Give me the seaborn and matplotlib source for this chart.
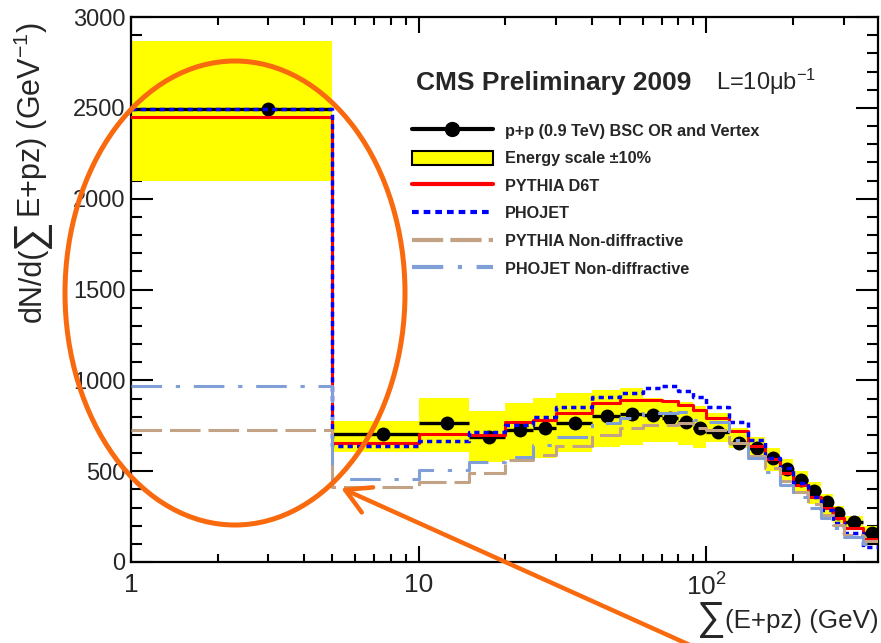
import numpy as np
import pandas as pd
import matplotlib
matplotlib.use("Agg")
import matplotlib.pyplot as plt
import seaborn as sns
from matplotlib import font_manager
from matplotlib.lines import Line2D
from matplotlib.patches import Patch, Ellipse

# ---- histogram contents -------------------------------------------------
# bin edges of sum(E+pz) in GeV
bin_edges = [1, 5, 10, 15, 20, 25, 30, 40, 50, 60, 70, 80, 90, 100,
             120, 140, 160, 180, 200, 225, 250, 275, 300, 350, 400]
# measured dN/d(sum E+pz), p+p 0.9 TeV, BSC OR and vertex
data_vals = [2495, 705, 765, 690, 727, 736, 763, 805, 815, 808, 790, 770,
             735, 717, 653, 626, 571, 511, 451, 392, 332, 272, 222, 162]
# energy scale +-10% systematic band
escale_low = [2100, 607, 603, 548, 561, 571, 607, 635, 644, 662, 662, 644,
              626, 662, 626, 560, 500, 440, 380, 320, 265, 215, 175, 125]
escale_high = [2870, 778, 901, 832, 873, 901, 928, 947, 956, 905, 890, 880,
               860, 818, 740, 690, 630, 565, 500, 440, 375, 310, 255, 200]
# generator predictions
pythia_d6t = [2450, 657, 705, 700, 772, 782, 822, 873, 892, 892, 885, 865,
              835, 795, 720, 640, 565, 490, 425, 360, 300, 240, 185, 125]
phojet = [2495, 638, 666, 717, 754, 796, 851, 910, 932, 958, 969, 943,
          910, 855, 772, 672, 571, 516, 433, 360, 286, 213, 158, 84]
pythia_nd = [727, 415, 442, 488, 561, 589, 638, 699, 736, 754, 754, 763,
             736, 727, 653, 585, 515, 445, 385, 320, 260, 205, 150, 115]
phojet_nd = [970, 457, 506, 552, 576, 644, 690, 763, 791, 818, 818, 827,
             782, 772, 672, 570, 495, 425, 360, 300, 240, 185, 140, 100]

x_tick_vals = [1, 10, 100]
x_tick_text = ["1", "10", "10$^{2}$"]

# ---- style ---------------------------------------------------------------
sns.set_theme(style="ticks")
names = {f.name for f in font_manager.fontManager.ttflist}
NARROW = "Liberation Sans Narrow" if "Liberation Sans Narrow" in names else "Liberation Sans"
is_narrow = NARROW == "Liberation Sans Narrow"
plt.rcParams["font.family"] = ["Liberation Sans", "DejaVu Sans"]
plt.rcParams["mathtext.fontset"] = "custom"
plt.rcParams["mathtext.rm"] = "Liberation Sans"
plt.rcParams["mathtext.it"] = "Liberation Sans:italic"
plt.rcParams["mathtext.bf"] = "Liberation Sans:bold"

legend_fs = 14.3 if is_narrow else 11.7
title_fs = 23 if is_narrow else 19
xlab_fs = 22 if is_narrow else 18.7

TAN = "#c2a385"
LBLUE = "#809fd6"
ORANGE = "#f96a0e"

W, H = 881, 643
fig = plt.figure(figsize=(W / 100, H / 100), dpi=100)
fig.patch.set_facecolor("white")
ax = fig.add_axes([131 / W, 1 - 562 / H, (878 - 131) / W, (562 - 17) / H])
ax.set_xscale("log")

edges = np.array(bin_edges, dtype=float)
centers = 0.5 * (edges[:-1] + edges[1:])


def step_frame(vals):
    return pd.DataFrame({"x": edges, "y": list(vals) + [vals[-1]]})


# systematic band
ax.fill_between(edges, list(escale_low) + [escale_low[-1]],
                list(escale_high) + [escale_high[-1]],
                step="post", color="yellow", lw=0, zorder=1)

# data: horizontal bin-width bars and markers
ax.hlines(data_vals, edges[:-1], edges[1:], color="black", lw=2.4, zorder=2)
sns.scatterplot(x=centers, y=data_vals, ax=ax, color="black", s=100,
                edgecolor="black", linewidth=0, zorder=2.5, legend=False)

# generator histograms
curves = [
    (pythia_d6t, "red", "-", 2.2),
    (phojet, "blue", (0, (1.5, 1.2)), 2.5),
    (pythia_nd, TAN, (0, (10, 2.6)), 2.2),
    (phojet_nd, LBLUE, (0, (10, 4.5, 1.4, 4.5)), 2.2),
]
for vals, col, ls, lw in curves:
    sns.lineplot(data=step_frame(vals), x="x", y="y", ax=ax, color=col,
                 linestyle=ls, lw=lw, drawstyle="steps-post", estimator=None,
                 sort=False, zorder=3)

ax.set_xlim(1, 395)
ax.set_ylim(0, 3000)
ax.set_xlabel("")
ax.set_ylabel("")

ax.set_xticks(x_tick_vals, labels=x_tick_text)
ax.set_xticks([2, 3, 4, 5, 6, 7, 8, 9, 20, 30, 40, 50, 60, 70, 80, 90, 200, 300],
              minor=True)
ax.set_yticks(np.arange(0, 3001, 500))
ax.set_yticks(np.arange(0, 3001, 100), minor=True)
ax.tick_params(which="both", direction="in", top=True, right=True,
               width=1.5, color="black")
ax.tick_params(axis="x", which="major", length=11.5, pad=8, labelsize=19)
ax.tick_params(axis="x", which="minor", length=5.8, labelbottom=False)
ax.tick_params(axis="y", which="major", length=16, pad=4, labelsize=17)
ax.tick_params(axis="y", which="minor", length=8)
for sp in ax.spines.values():
    sp.set_linewidth(1.6)
    sp.set_color("black")

# legend
handles = [
    Line2D([], [], color="black", lw=3, marker="o", ms=10),
    Patch(facecolor="yellow", edgecolor="black", lw=1.5),
    Line2D([], [], color="red", lw=3),
    Line2D([], [], color="blue", lw=3, ls=(0, (1.6, 1.2))),
    Line2D([], [], color=TAN, lw=3, ls=(0, (7.5, 1.7))),
    Line2D([], [], color=LBLUE, lw=3, ls=(0, (7.5, 3.5, 1, 3.5))),
]
labels = ["p+p (0.9 TeV) BSC OR and Vertex", "Energy scale \u00b110%",
          "PYTHIA D6T", "PHOJET", "PYTHIA Non-diffractive",
          "PHOJET Non-diffractive"]
leg = fig.legend(handles, labels, loc="upper left",
                 bbox_to_anchor=(412 / W, 1 - 123 / H), frameon=False,
                 borderpad=0, borderaxespad=0, handlelength=81 / (legend_fs * 1.389),
                 handleheight=1.0, handletextpad=0.75, labelspacing=0.72,
                 prop={"family": NARROW, "weight": "bold", "size": legend_fs})

# header text
fig.text(416 / W, 1 - 90 / H, "CMS Preliminary 2009", family=NARROW,
         weight="bold", fontsize=title_fs, va="baseline", ha="left")
fig.text(716 / W, 1 - 90 / H, "L=10\u03bcb$^{-1}$", family="Liberation Sans",
         fontsize=17, va="baseline", ha="left")

fig.canvas.draw()
rend = fig.canvas.get_renderer()

# x-axis title: large sum sign followed by the quantity
t_x = fig.text(879 / W, 1 - 628 / H, "(E+pz) (GeV)", family=NARROW,
               fontsize=xlab_fs, ha="right", va="baseline")
bb = t_x.get_window_extent(rend)
fig.text(bb.x0 / W, 1 - 630 / H, "\u2211", family="Liberation Sans",
         fontsize=29, ha="right", va="baseline")

# y-axis title, written bottom to top
y_pos = 1 - 322 / H
base_x = 41 / W
for piece, fs in [("dN/d(", 22), ("\u2211", 30), ("E+pz) (GeV$^{-1}$)", 22)]:
    t = fig.text(base_x, y_pos, piece, family="Liberation Sans", fontsize=fs,
                 rotation=90, rotation_mode="anchor", ha="left", va="baseline")
    b = t.get_window_extent(rend)
    y_pos = b.y1 / H

# highlight of the first bin
fig.add_artist(Ellipse((235 / W, 1 - 293 / H), 340 / W, 464 / H,
                       transform=fig.transFigure, fill=False,
                       edgecolor=ORANGE, lw=3.6, zorder=10))
ax.annotate("", xy=(341 / W, 1 - 488 / H), xycoords="figure fraction",
            xytext=(712 / W, 1 - 655 / H), textcoords="figure fraction",
            arrowprops=dict(arrowstyle="->,head_length=0.8,head_width=0.45",
                            color=ORANGE, lw=3.2, mutation_scale=22,
                            shrinkA=0, shrinkB=0),
            annotation_clip=False, zorder=10)

fig.savefig("out.png", dpi=100)
